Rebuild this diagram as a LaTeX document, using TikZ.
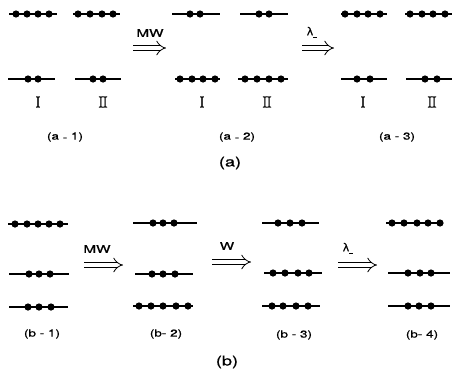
\documentclass[tikz,border=0pt]{standalone}
\usepackage{fontspec}
\newfontfamily\labfont[FakeBold=0.6]{TeX Gyre Heros}
\newfontfamily\dvfont[FakeBold=0.6]{DejaVu Sans}
\newfontfamily\romfont[FakeBold=1]{Latin Modern Roman}
\usetikzlibrary{arrows.meta}
\newcommand\wide[2][1.35]{\scalebox{#1}[1]{#2}}
\newcommand\lowdash{\raisebox{-1.2pt}{-}}
\newcommand\lamminus{{\dvfont\fontsize{11}{11}\selectfont λ}\raisebox{-2.5pt}{\rule{4pt}{1pt}}}
\tikzset{
  x=1pt, y=-1pt,
  lvl/.style={line width=1.05pt},
  sub/.style={font=\labfont\fontsize{10}{10}\selectfont, inner sep=0},
  biglab/.style={font=\labfont\fontsize{13.5}{13.5}\selectfont, inner sep=0},
  rom/.style={font=\romfont\fontsize{16}{16}\selectfont, inner sep=0},
  arr/.style={font=\labfont\fontsize{10.5}{10.5}\selectfont, inner sep=0, anchor=south},
  trans/.style={double, double distance=4.4pt, line width=0.8pt, -{Implies}},
}
\newcommand\lev[4]{%
  \draw[lvl] (#1,#3) -- (#2,#3);
  \foreach \d in {#4} {\fill (\d,#3) circle (3.6pt);}
}
\begin{document}
\begin{tikzpicture}
\useasboundingbox (0,0) rectangle (453,381);
% ---------- (a) ----------
% a-1
\lev{9}{57}{14}{16,27,38,49}
\lev{8}{55}{79}{28,38}
\lev{73}{120}{14}{78,90,102,113}
\lev{75}{121}{79}{93,103}
\node[rom] (r11) at (38,102) {I};
\node[rom] (r12) at (103,102) {I\kern-1ptI};
% a-2
\lev{172}{220}{14}{190,200}
\lev{175}{220}{79}{180,192,203,215}
\lev{240}{288}{14}{259,269}
\lev{238}{288}{79}{245,257,269,281}
\node[rom] (r21) at (202,102) {I};
\node[rom] (r22) at (267,102) {I\kern-1ptI};
% a-3
\lev{341}{387}{14}{345,357,368,380}
\lev{341}{387}{79}{357,370}
\lev{405}{452}{14}{410,422,433,445}
\lev{406}{452}{79}{425,437}
\node[rom] (r31) at (363,102) {I};
\node[rom] (r32) at (432,102) {I\kern-1ptI};
% arrows a
\coordinate (a1s) at (133,48); \coordinate (a1e) at (166,48);
\draw[trans] (a1s) -- (a1e);
\node[arr] (t1) at (150,37) {\wide[1.45]{MW}};
\coordinate (a2s) at (302,48); \coordinate (a2e) at (334,48);
\draw[trans] (a2s) -- (a2e);
\node[arr] (t2) at (312,38) {\lamminus};
% labels a
\node[sub] (la1) at (65,137) {\wide{(a \lowdash\ 1)}};
\node[sub] (la2) at (237,137) {\wide{(a \lowdash\ 2)}};
\node[sub] (la3) at (397,137) {\wide{(a - 3)}};
\node[biglab] (la) at (230,163) {\wide{(a)}};
% ---------- (b) ----------
\lev{8}{68}{224}{15,27,38,49,60}
\lev{9}{69}{274}{29,39,50}
\lev{9}{68}{307}{28,39,51}
\lev{133}{197}{223}{153,163,174}
\lev{135}{193}{274}{152,163,175}
\lev{133}{193}{306}{139,151,163,176,188}
\lev{262}{319}{223}{278,290,302}
\lev{264}{322}{273}{273,285,298,309}
\lev{262}{320}{306}{272,283,296,308}
\lev{386}{443}{223}{392,404,417,428,440}
\lev{388}{450}{273}{408,420,431}
\lev{388}{450}{306}{408,419,431}
% arrows b
\coordinate (b1s) at (84,265); \coordinate (b1e) at (123,265);
\draw[trans] (b1s) -- (b1e);
\node[arr] (u1) at (97,253) {\wide[1.45]{MW}};
\coordinate (b2s) at (212,262); \coordinate (b2e) at (251,262);
\draw[trans] (b2s) -- (b2e);
\node[arr] (u2) at (227,250) {\wide[1.45]{W}};
\coordinate (b3s) at (338,265); \coordinate (b3e) at (377,265);
\draw[trans] (b3s) -- (b3e);
\node[arr] (u3) at (348,254) {\lamminus};
% labels b
\node[sub] (lb1) at (42,334) {\wide{(b - 1)}};
\node[sub] (lb2) at (166,334) {\wide{(b- 2)}};
\node[sub] (lb3) at (294,335) {\wide{(b - 3)}};
\node[sub] (lb4) at (422,335) {\wide{(b- 4)}};
\node[biglab] (lb) at (227,362) {\wide{(b)}};
\end{tikzpicture}
\end{document}
